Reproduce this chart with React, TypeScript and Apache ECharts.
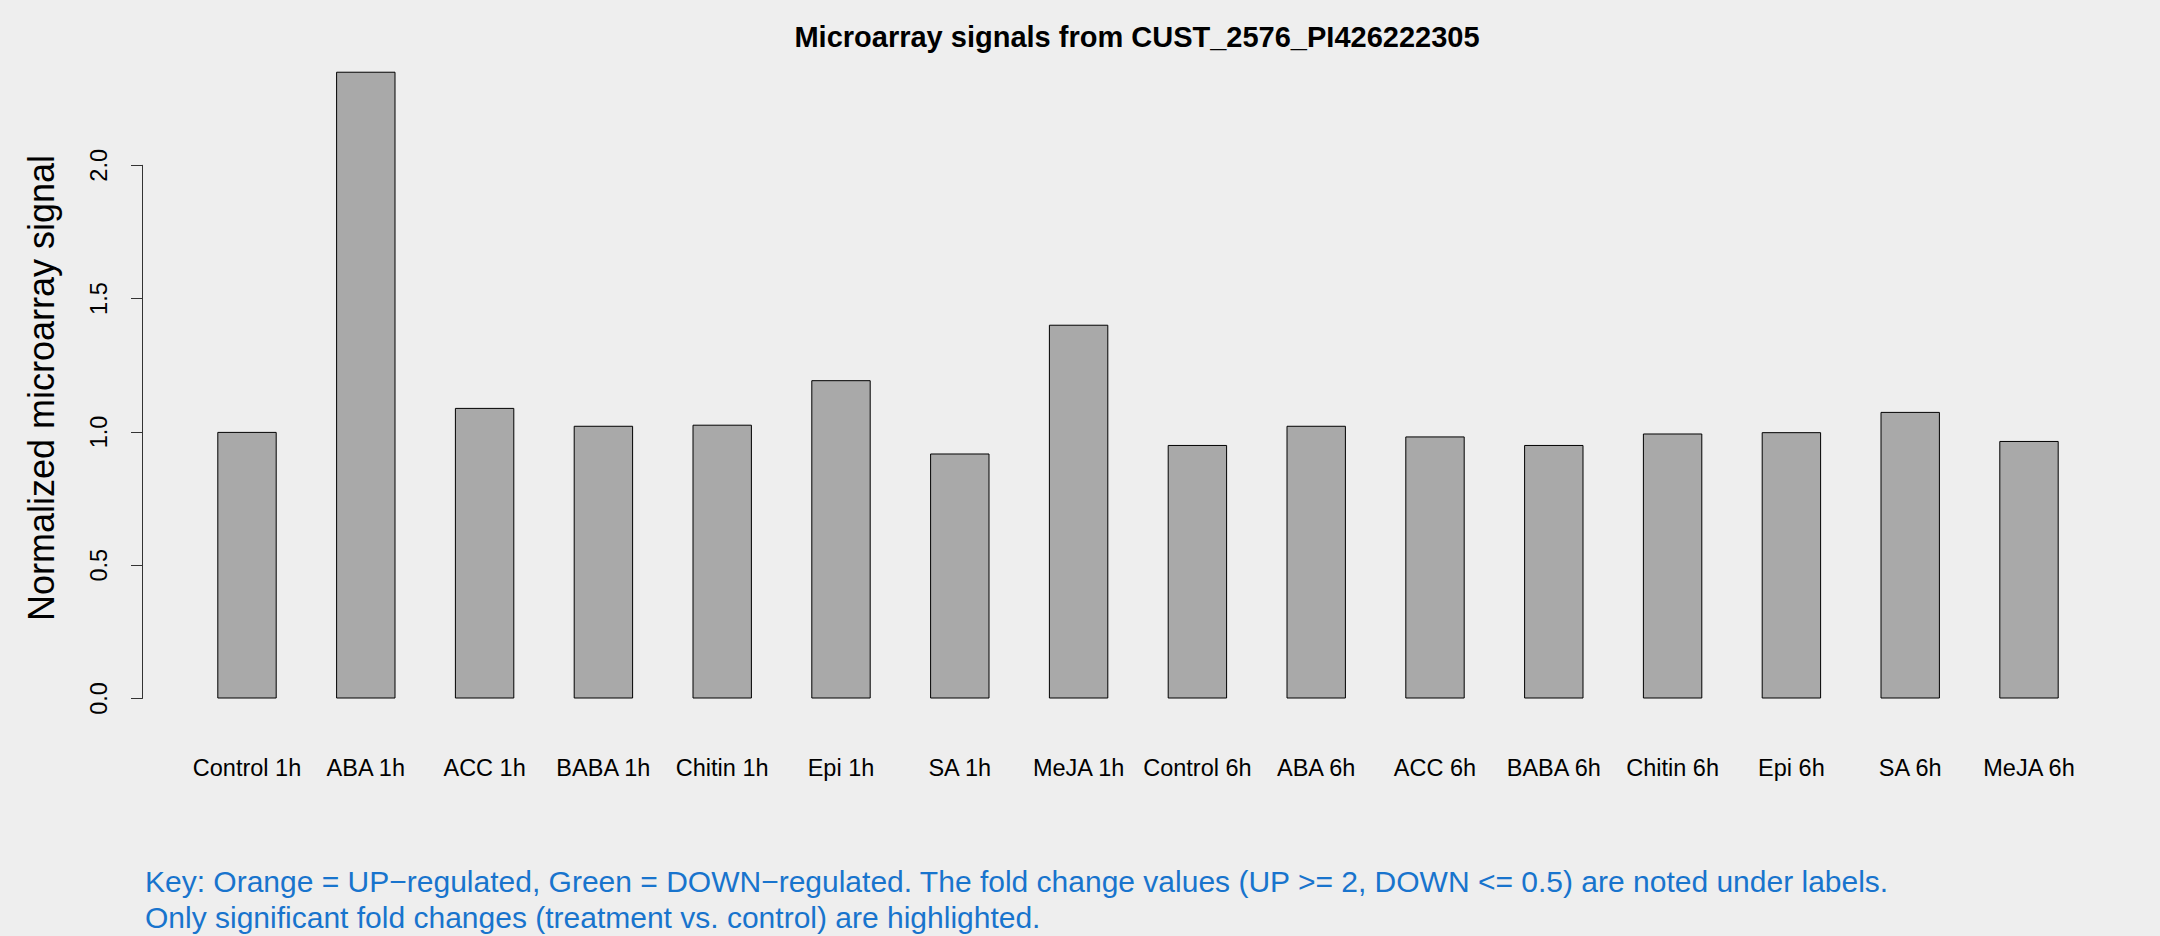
import React, { useEffect, useRef } from "react";
import * as echarts from "echarts";

const categories = [
  "Control 1h", "ABA 1h", "ACC 1h", "BABA 1h", "Chitin 1h", "Epi 1h", "SA 1h", "MeJA 1h",
  "Control 6h", "ABA 6h", "ACC 6h", "BABA 6h", "Chitin 6h", "Epi 6h", "SA 6h", "MeJA 6h",
];
const signalValues = [
  1.0, 2.351, 1.09, 1.023, 1.027, 1.194, 0.919, 1.402,
  0.951, 1.023, 0.983, 0.951, 0.994, 0.999, 1.075, 0.966,
];
const yTicks = { min: 0, max: 2, interval: 0.5 };
const titleText = "Microarray signals from CUST_2576_PI426222305";
const yAxisTitle = "Normalized microarray signal";
const keyLines = [
  "Key: Orange = UP\u2212regulated, Green = DOWN\u2212regulated. The fold change values (UP >= 2, DOWN <= 0.5) are noted under labels.",
  "Only significant fold changes (treatment vs. control) are highlighted.",
];

const FONT = "'Liberation Sans', Arial, Helvetica, sans-serif";

export default function App() {
  const ref = useRef<HTMLDivElement>(null);
  useEffect(() => {
    if (!ref.current) return;
    const chart = echarts.init(ref.current, null, { renderer: "svg" });
    chart.setOption({
      animation: false,
      backgroundColor: "#EEEEEE",
      title: {
        text: titleText,
        left: 1132,
        top: 17,
        textAlign: "center",
        textStyle: { fontFamily: FONT, fontSize: 29, fontWeight: "bold", color: "#000" },
      },
      grid: { left: 187.6, right: 71.6, top: 165.3, bottom: 237.5, containLabel: false },
      xAxis: {
        type: "category",
        data: categories,
        boundaryGap: true,
        axisLine: { show: false },
        axisTick: { show: false },
        splitLine: { show: false },
        axisLabel: {
          interval: 0,
          margin: 57,
          fontFamily: FONT,
          fontSize: 23.5,
          color: "#000",
        },
      },
      yAxis: {
        type: "value",
        min: yTicks.min,
        max: yTicks.max,
        interval: yTicks.interval,
        offset: 45.6,
        splitLine: { show: false },
        axisLine: { show: true, lineStyle: { color: "#333", width: 1 } },
        axisTick: { show: true, length: 11, lineStyle: { color: "#333", width: 1 } },
        axisLabel: {
          rotate: 90,
          margin: 31,
          fontFamily: FONT,
          fontSize: 23.5,
          color: "#000",
          formatter: (v: number) => v.toFixed(1),
        },
      },
      graphic: [
        {
          type: "text",
          x: 41,
          y: 388,
          rotation: Math.PI / 2,
          style: {
            text: yAxisTitle,
            fontFamily: FONT,
            fontSize: 36,
            fill: "#000",
            align: "center",
            verticalAlign: "middle",
          },
        },
        {
          type: "text",
          x: 145,
          y: 899.5,
          style: {
            text: keyLines.join("\n"),
            fontFamily: FONT,
            fontSize: 30,
            lineHeight: 36,
            fill: "#1874CD",
            align: "left",
            verticalAlign: "middle",
          },
        },
      ],
      series: [
        {
          type: "bar",
          data: signalValues,
          barWidth: "50%",
          clip: false,
          itemStyle: { color: "#A9A9A9", borderColor: "#000", borderWidth: 1 },
        },
      ],
    });
    return () => chart.dispose();
  }, []);
  return (
    <div
      ref={ref}
      style={{ position: "fixed", left: 0, top: 0, width: 2160, height: 936 }}
    />
  );
}
